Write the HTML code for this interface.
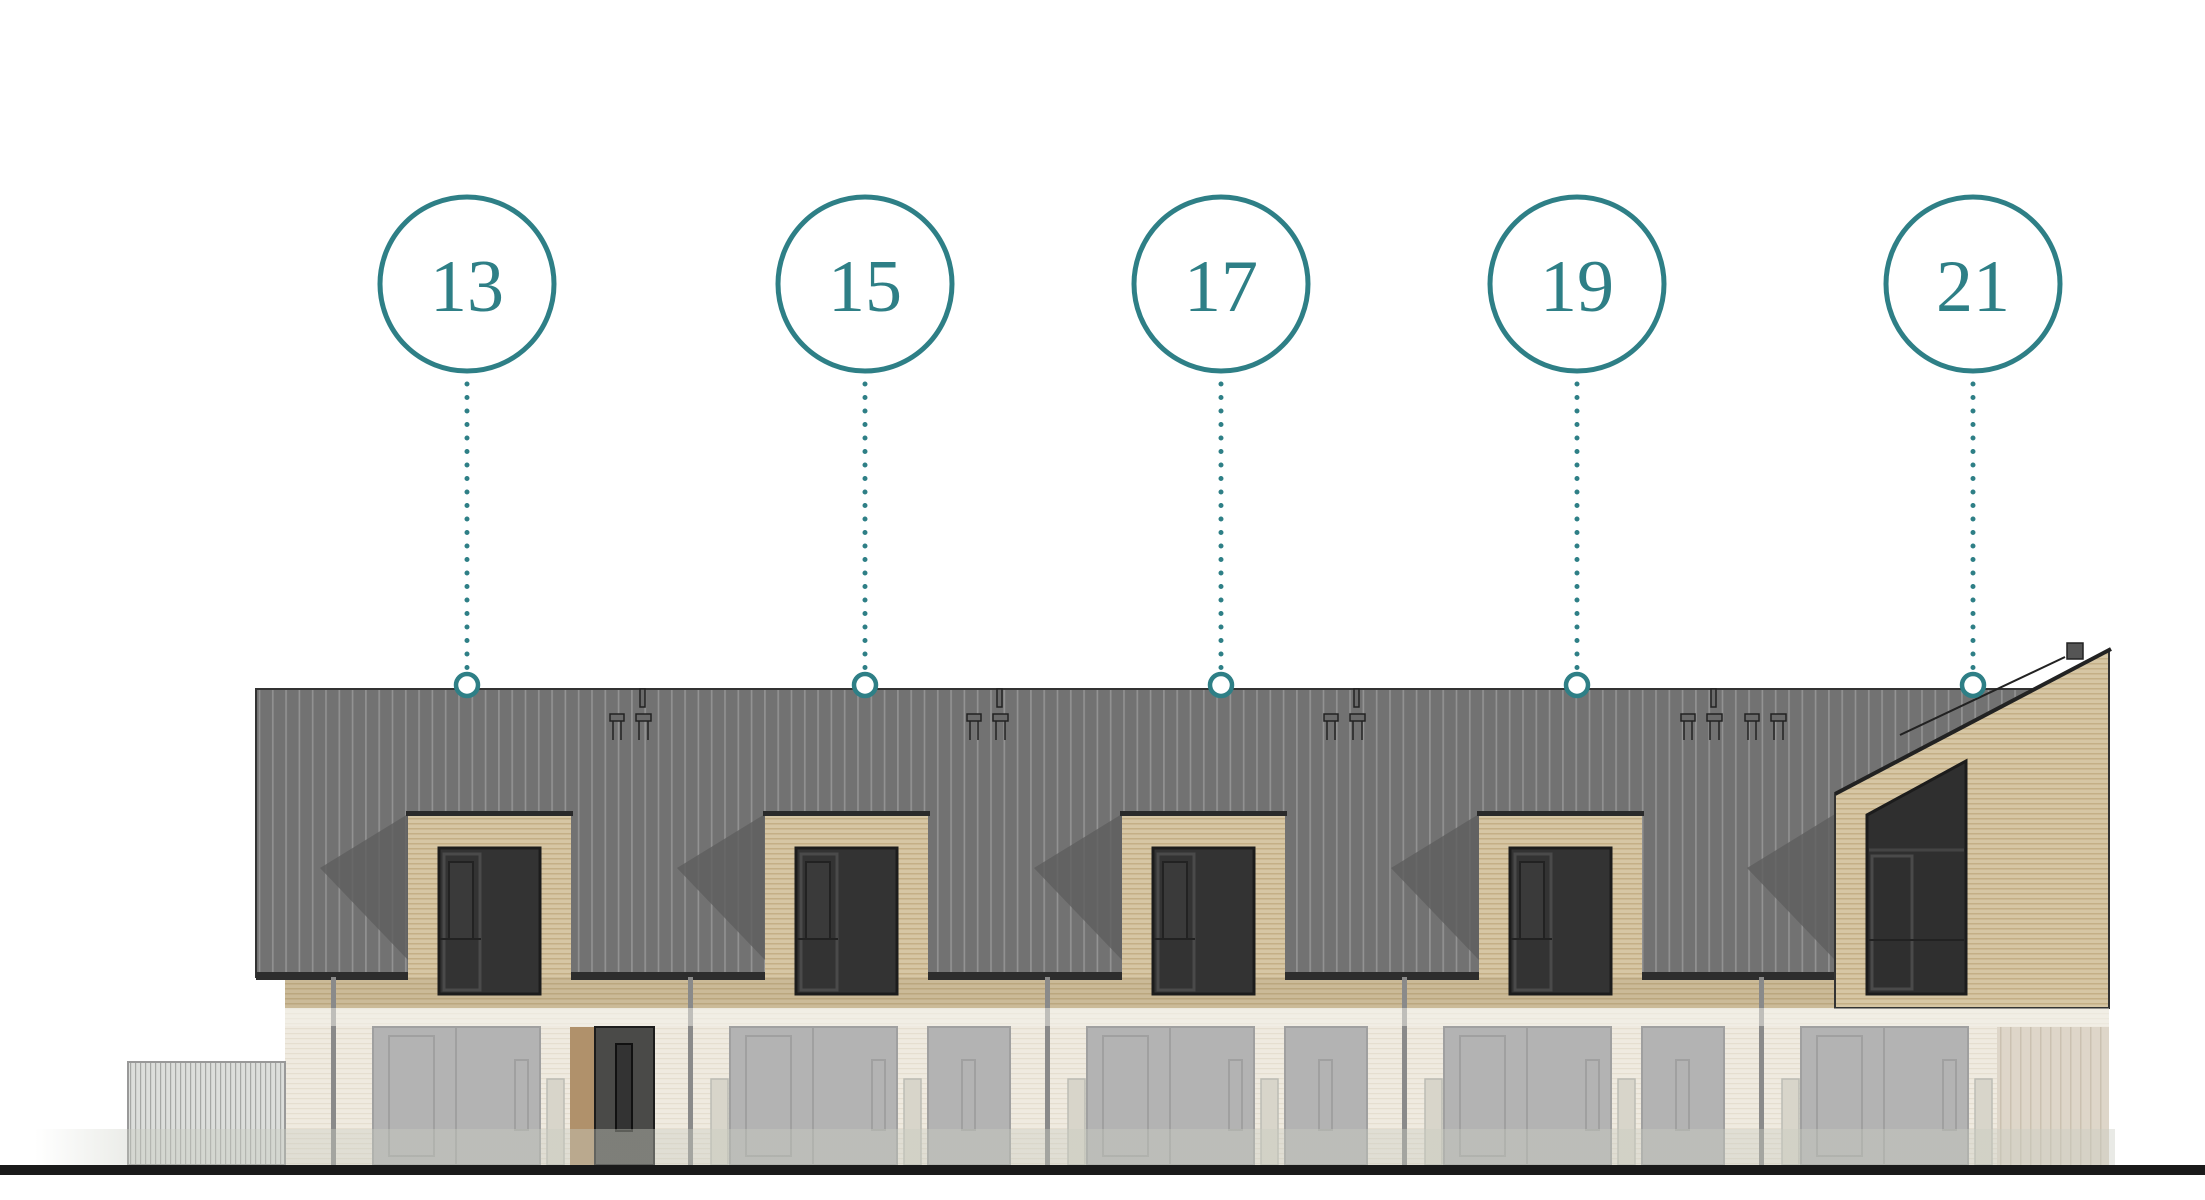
<!DOCTYPE html>
<html><head><meta charset="utf-8"><style>
html,body{margin:0;padding:0;background:#fff;}
svg{display:block;}
</style></head><body>
<svg width="2205" height="1200" viewBox="0 0 2205 1200" xmlns="http://www.w3.org/2000/svg">
<defs>
<pattern id="roofp" x="0" y="0" width="13.3" height="20" patternUnits="userSpaceOnUse">
<rect width="13.3" height="20" fill="#727272"/>
<rect x="6" width="1.6" height="20" fill="#939393"/>
</pattern>
<pattern id="wood" x="0" y="0" width="10" height="5" patternUnits="userSpaceOnUse">
<rect width="10" height="5" fill="#d6c6a4"/>
<rect y="3" width="10" height="1.5" fill="#c4af86"/>
</pattern>
<pattern id="cream" x="0" y="0" width="10" height="5" patternUnits="userSpaceOnUse">
<rect width="10" height="5" fill="#efeae0"/>
<rect y="3" width="10" height="1.2" fill="#e5ded0"/>
</pattern>
<pattern id="fence" x="0" y="0" width="5" height="20" patternUnits="userSpaceOnUse">
<rect width="5" height="20" fill="#dcdedb"/>
<rect width="1.2" height="20" fill="#a5a7a4"/>
</pattern>
<pattern id="clad" x="0" y="0" width="10" height="20" patternUnits="userSpaceOnUse">
<rect width="10" height="20" fill="#ded6c9"/>
<rect width="1.5" height="20" fill="#cbc1b1"/>
</pattern>
<linearGradient id="hedge" x1="0" x2="1" y1="0" y2="0">
<stop offset="0" stop-color="#c9ccc1" stop-opacity="0"/>
<stop offset="0.05" stop-color="#c9ccc1" stop-opacity="0.9"/>
<stop offset="1" stop-color="#c9ccc1" stop-opacity="0.9"/>
</linearGradient>
</defs>

<rect x="256" y="689" width="1780" height="288" fill="url(#roofp)" stroke="#333" stroke-width="2"/>
<rect x="285" y="977" width="1824" height="31" fill="url(#wood)"/>
<rect x="285" y="977" width="1824" height="31" fill="#8a7a5a" opacity="0.15"/>
<rect x="285" y="1008" width="1824" height="157" fill="url(#cream)"/>

<g>
<polygon points="408,814 320,868 408,960" fill="#5e5e5e" opacity="0.8"/>
<rect x="408" y="814" width="163" height="163" fill="url(#wood)"/>
<rect x="406" y="811" width="167" height="5" fill="#2a2a2a"/>
<rect x="439" y="848" width="101" height="146" fill="#333" stroke="#1c1c1c" stroke-width="3"/>
<rect x="444" y="854" width="36" height="136" fill="none" stroke="#4a4a4a" stroke-width="3"/>
<rect x="449" y="862" width="24" height="77" fill="#3a3a3a" stroke="#222" stroke-width="2"/>
<line x1="440" y1="939" x2="481" y2="939" stroke="#222" stroke-width="2"/>
<rect x="256" y="972" width="152" height="8" fill="#2d2d2d"/>
</g>
<g>
<polygon points="765,814 677,868 765,960" fill="#5e5e5e" opacity="0.8"/>
<rect x="765" y="814" width="163" height="163" fill="url(#wood)"/>
<rect x="763" y="811" width="167" height="5" fill="#2a2a2a"/>
<rect x="796" y="848" width="101" height="146" fill="#333" stroke="#1c1c1c" stroke-width="3"/>
<rect x="801" y="854" width="36" height="136" fill="none" stroke="#4a4a4a" stroke-width="3"/>
<rect x="806" y="862" width="24" height="77" fill="#3a3a3a" stroke="#222" stroke-width="2"/>
<line x1="797" y1="939" x2="838" y2="939" stroke="#222" stroke-width="2"/>
</g>
<g>
<polygon points="1122,814 1034,868 1122,960" fill="#5e5e5e" opacity="0.8"/>
<rect x="1122" y="814" width="163" height="163" fill="url(#wood)"/>
<rect x="1120" y="811" width="167" height="5" fill="#2a2a2a"/>
<rect x="1153" y="848" width="101" height="146" fill="#333" stroke="#1c1c1c" stroke-width="3"/>
<rect x="1158" y="854" width="36" height="136" fill="none" stroke="#4a4a4a" stroke-width="3"/>
<rect x="1163" y="862" width="24" height="77" fill="#3a3a3a" stroke="#222" stroke-width="2"/>
<line x1="1154" y1="939" x2="1195" y2="939" stroke="#222" stroke-width="2"/>
</g>
<g>
<polygon points="1479,814 1391,868 1479,960" fill="#5e5e5e" opacity="0.8"/>
<rect x="1479" y="814" width="163" height="163" fill="url(#wood)"/>
<rect x="1477" y="811" width="167" height="5" fill="#2a2a2a"/>
<rect x="1510" y="848" width="101" height="146" fill="#333" stroke="#1c1c1c" stroke-width="3"/>
<rect x="1515" y="854" width="36" height="136" fill="none" stroke="#4a4a4a" stroke-width="3"/>
<rect x="1520" y="862" width="24" height="77" fill="#3a3a3a" stroke="#222" stroke-width="2"/>
<line x1="1511" y1="939" x2="1552" y2="939" stroke="#222" stroke-width="2"/>
</g>
<rect x="571" y="972" width="194" height="8" fill="#2d2d2d"/>
<rect x="928" y="972" width="194" height="8" fill="#2d2d2d"/>
<rect x="1285" y="972" width="194" height="8" fill="#2d2d2d"/>
<rect x="1642" y="972" width="193" height="8" fill="#2d2d2d"/>
<polygon points="1835,814 1747,868 1835,960" fill="#5e5e5e" opacity="0.8"/>

<polygon points="1835,794 2109,650 2109,1008 1835,1008" fill="url(#wood)" stroke="#333" stroke-width="2"/>
<line x1="1835" y1="794" x2="2111" y2="649" stroke="#222" stroke-width="4"/>
<line x1="1900" y1="735" x2="2065" y2="657" stroke="#222" stroke-width="2"/>
<rect x="2067" y="643" width="16" height="16" fill="#555" stroke="#222" stroke-width="1.5"/>
<polygon points="1867,815 1966,761 1966,994 1867,994" fill="#2f2f2f" stroke="#1c1c1c" stroke-width="3"/>
<line x1="1869" y1="850" x2="1964" y2="850" stroke="#444" stroke-width="3"/>
<rect x="1872" y="856" width="40" height="133" fill="none" stroke="#4a4a4a" stroke-width="3"/>
<line x1="1869" y1="940" x2="1964" y2="940" stroke="#222" stroke-width="2"/>

<g fill="#6a6a6a" stroke="#222" stroke-width="1.5">
<rect x="640" y="689" width="5" height="18"/><rect x="610" y="714" width="14" height="7"/><rect x="636" y="714" width="15" height="7"/>
<line x1="613" y1="721" x2="613" y2="740"/><line x1="621" y1="721" x2="621" y2="740"/><line x1="639" y1="721" x2="639" y2="740"/><line x1="648" y1="721" x2="648" y2="740"/>
<rect x="997" y="689" width="5" height="18"/><rect x="967" y="714" width="14" height="7"/><rect x="993" y="714" width="15" height="7"/>
<line x1="970" y1="721" x2="970" y2="740"/><line x1="978" y1="721" x2="978" y2="740"/><line x1="996" y1="721" x2="996" y2="740"/><line x1="1005" y1="721" x2="1005" y2="740"/>
<rect x="1354" y="689" width="5" height="18"/><rect x="1324" y="714" width="14" height="7"/><rect x="1350" y="714" width="15" height="7"/>
<line x1="1327" y1="721" x2="1327" y2="740"/><line x1="1335" y1="721" x2="1335" y2="740"/><line x1="1353" y1="721" x2="1353" y2="740"/><line x1="1362" y1="721" x2="1362" y2="740"/>
<rect x="1711" y="689" width="5" height="18"/><rect x="1681" y="714" width="14" height="7"/><rect x="1707" y="714" width="15" height="7"/>
<line x1="1684" y1="721" x2="1684" y2="740"/><line x1="1692" y1="721" x2="1692" y2="740"/><line x1="1710" y1="721" x2="1710" y2="740"/><line x1="1719" y1="721" x2="1719" y2="740"/>
<rect x="1745" y="714" width="14" height="7"/><rect x="1771" y="714" width="15" height="7"/>
<line x1="1748" y1="721" x2="1748" y2="740"/><line x1="1756" y1="721" x2="1756" y2="740"/><line x1="1774" y1="721" x2="1774" y2="740"/><line x1="1783" y1="721" x2="1783" y2="740"/>
</g>

<g fill="#b3b3b3" stroke="#a0a0a0" stroke-width="2">
<rect x="373" y="1027" width="167" height="138"/>
<rect x="730" y="1027" width="167" height="138"/>
<rect x="1087" y="1027" width="167" height="138"/>
<rect x="1444" y="1027" width="167" height="138"/>
<rect x="1801" y="1027" width="167" height="138"/>
<rect x="928" y="1027" width="82" height="138"/>
<rect x="1285" y="1027" width="82" height="138"/>
<rect x="1642" y="1027" width="82" height="138"/>
</g>
<g fill="none" stroke="#a0a0a0" stroke-width="2">
<line x1="456" y1="1027" x2="456" y2="1165"/><line x1="813" y1="1027" x2="813" y2="1165"/><line x1="1170" y1="1027" x2="1170" y2="1165"/><line x1="1527" y1="1027" x2="1527" y2="1165"/><line x1="1884" y1="1027" x2="1884" y2="1165"/>
<rect x="389" y="1036" width="45" height="120"/><rect x="746" y="1036" width="45" height="120"/><rect x="1103" y="1036" width="45" height="120"/><rect x="1460" y="1036" width="45" height="120"/><rect x="1817" y="1036" width="45" height="120"/>
<rect x="515" y="1060" width="13" height="70"/><rect x="872" y="1060" width="13" height="70"/><rect x="1229" y="1060" width="13" height="70"/><rect x="1586" y="1060" width="13" height="70"/><rect x="1943" y="1060" width="13" height="70"/>
<rect x="962" y="1060" width="13" height="70"/><rect x="1319" y="1060" width="13" height="70"/><rect x="1676" y="1060" width="13" height="70"/>
</g>
<g fill="#d8d5ca" stroke="#bcbcb4" stroke-width="1.5">
<rect x="547" y="1079" width="17" height="86"/><rect x="904" y="1079" width="17" height="86"/><rect x="1261" y="1079" width="17" height="86"/><rect x="1618" y="1079" width="17" height="86"/><rect x="1975" y="1079" width="17" height="86"/>
<rect x="711" y="1079" width="17" height="86"/><rect x="1068" y="1079" width="17" height="86"/><rect x="1425" y="1079" width="17" height="86"/><rect x="1782" y="1079" width="17" height="86"/>
</g>
<rect x="570" y="1027" width="25" height="138" fill="#b0916b"/>
<rect x="595" y="1027" width="59" height="138" fill="#4a4a48" stroke="#1c1c1c" stroke-width="2"/>
<rect x="616" y="1044" width="16" height="87" fill="#333" stroke="#111" stroke-width="2"/>
<rect x="1997" y="1027" width="112" height="138" fill="url(#clad)"/>
<g fill="#8a8a8a">
<rect x="331" y="977" width="5" height="188"/><rect x="688" y="977" width="5" height="188"/><rect x="1045" y="977" width="5" height="188"/><rect x="1402" y="977" width="5" height="188"/><rect x="1759" y="977" width="5" height="188"/>
</g>
<rect x="128" y="1062" width="157" height="103" fill="url(#fence)" stroke="#999" stroke-width="2"/>
<rect x="285" y="1008" width="1824" height="18" fill="#f4f1ea" opacity="0.5"/>
<rect x="35" y="1129" width="2080" height="36" fill="url(#hedge)" opacity="0.45"/>
<rect x="0" y="1165" width="2205" height="10" fill="#1a1a1a"/>

<g stroke="#2e7f86" fill="none">
<g stroke-width="5" stroke-dasharray="0 13.5" stroke-linecap="round">
<line x1="467" y1="384" x2="467" y2="670"/>
<line x1="865" y1="384" x2="865" y2="670"/>
<line x1="1221" y1="384" x2="1221" y2="670"/>
<line x1="1577" y1="384" x2="1577" y2="670"/>
<line x1="1973" y1="384" x2="1973" y2="670"/>
</g>
<g stroke-width="5">
<circle cx="467" cy="284" r="87"/><circle cx="865" cy="284" r="87"/><circle cx="1221" cy="284" r="87"/><circle cx="1577" cy="284" r="87"/><circle cx="1973" cy="284" r="87"/>
</g>
<g stroke-width="4.5" fill="#fff">
<circle cx="467" cy="685" r="11"/><circle cx="865" cy="685" r="11"/><circle cx="1221" cy="685" r="11"/><circle cx="1577" cy="685" r="11"/><circle cx="1973" cy="685" r="11"/>
</g>
</g>
<g fill="#2e7f86" font-family="'Liberation Serif', serif" font-size="74" text-anchor="middle">
<text x="467" y="311">13</text>
<text x="865" y="311">15</text>
<text x="1221" y="311">17</text>
<text x="1577" y="311">19</text>
<text x="1973" y="311">21</text>
</g>
</svg>
</body></html>
